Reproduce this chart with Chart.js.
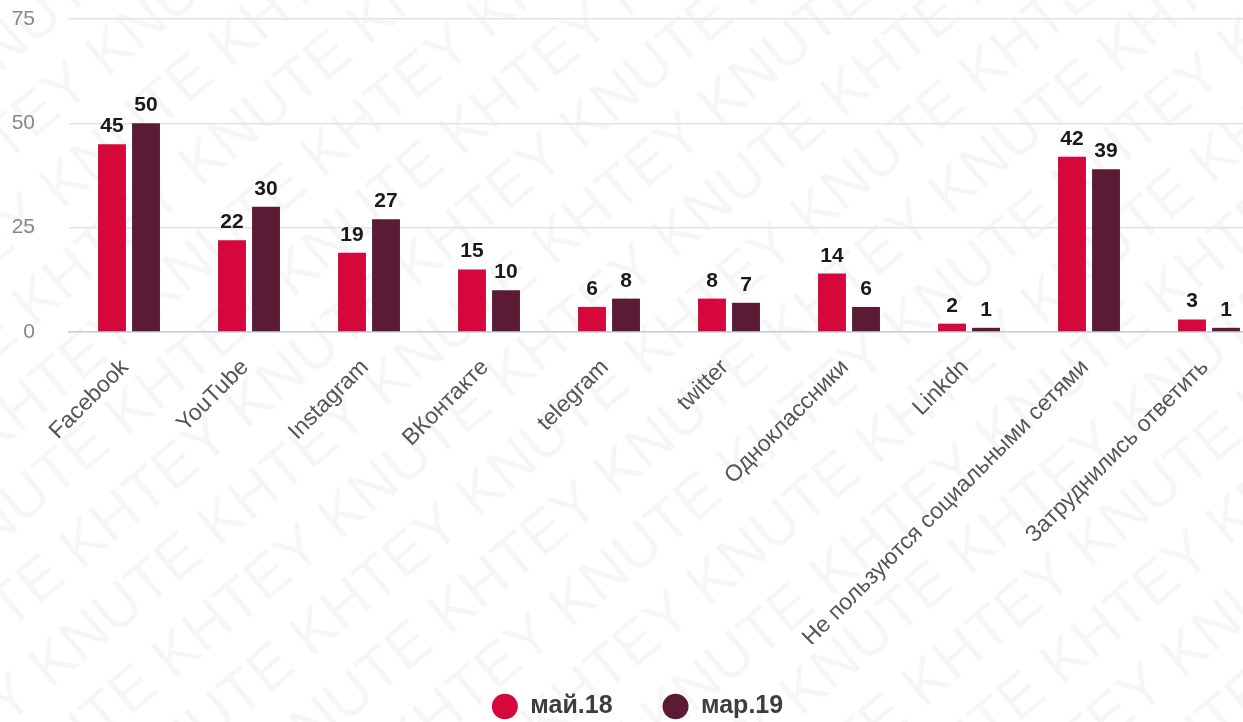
<!DOCTYPE html>
<html>
<head>
<meta charset="utf-8">
<script src="https://cdn.jsdelivr.net/npm/chart.js@4"></script>
<style>
  html, body { margin: 0; padding: 0; background: #fff; overflow: hidden; }
  #grafico { display: block; }
</style>
</head>
<body>
<canvas id="grafico" width="1280" height="722"></canvas>
<script>
// categorie e valori
var categorie = ['Facebook', 'YouTube', 'Instagram', 'ВКонтакте', 'telegram', 'twitter',
  'Одноклассники', 'Linkdn', 'Не пользуются социальными сетями', 'Затруднились ответить'];
var maggio18 = [45, 22, 19, 15, 6, 8, 14, 2, 42, 3];
var marzo19 = [50, 30, 27, 10, 8, 7, 6, 1, 39, 1];
var tickY = [0, 25, 50, 75];

var rosso = '#d6083b';
var bordeaux = '#5b1b34';
var font = '"Liberation Sans", Arial, sans-serif';

// filigrana di sfondo
var filigrana = {
  id: 'filigrana',
  beforeDraw: function (chart) {
    var ctx = chart.ctx;
    ctx.save();
    ctx.fillStyle = '#fff';
    ctx.fillRect(0, 0, chart.width, chart.height);
    ctx.font = '60px ' + font;
    ctx.fillStyle = 'rgba(0,0,0,0.035)';
    ctx.translate(chart.width / 2, chart.height / 2);
    ctx.rotate(-40 * Math.PI / 180);
    var riga = 'KNUTE KHTEY KNUTE KHTEY KNUTE KHTEY KNUTE KHTEY KNUTE KHTEY';
    for (var i = -12; i <= 12; i++) {
      ctx.fillText(riga, -1100 + (i % 2) * 120, i * 72);
    }
    ctx.restore();
  }
};

// etichette sopra le barre
var etichette = {
  id: 'etichette',
  afterDatasetsDraw: function (chart) {
    var ctx = chart.ctx;
    ctx.save();
    ctx.font = 'bold 21px ' + font;
    ctx.fillStyle = '#1a1a1a';
    ctx.textAlign = 'center';
    ctx.textBaseline = 'alphabetic';
    chart.data.datasets.forEach(function (ds, i) {
      chart.getDatasetMeta(i).data.forEach(function (bar, j) {
        ctx.fillText(ds.data[j], bar.x, bar.y - 12);
      });
    });
    ctx.restore();
  }
};

var ctx = document.getElementById('grafico').getContext('2d');
var grafico = new Chart(ctx, {
  type: 'bar',
  data: {
    labels: categorie,
    datasets: [{
      label: 'май.18',
      data: maggio18,
      backgroundColor: rosso,
      barPercentage: 0.82,
      categoryPercentage: 0.567
    }, {
      label: 'мар.19',
      data: marzo19,
      backgroundColor: bordeaux,
      barPercentage: 0.82,
      categoryPercentage: 0.567
    }]
  },
  options: {
    responsive: false,
    animation: false,
    layout: { padding: { top: 19, left: 6, right: 11, bottom: -7 } },
    plugins: {
      legend: {
        position: 'bottom',
        labels: {
          usePointStyle: true,
          pointStyle: 'circle',
          pointStyleWidth: 26,
          boxWidth: 18,
          boxHeight: 18,
          padding: 50,
          color: '#3d3d3d',
          font: { family: font, size: 25, weight: 'bold' }
        }
      },
      tooltip: { enabled: false }
    },
    scales: {
      x: {
        grid: { display: false, drawTicks: false },
        border: { display: true, color: '#c8cddb', width: 1.5 },
        afterFit: function (scale) {
          scale.paddingLeft = 0;
          scale.paddingRight = 0;
          scale.height = 312;
        },
        ticks: {
          minRotation: 45,
          maxRotation: 45,
          padding: 22,
          labelOffset: -4,
          color: '#555',
          font: { family: font, size: 23 }
        }
      },
      y: {
        min: 0,
        max: 75,
        afterBuildTicks: function (axis) {
          axis.ticks = tickY.map(function (v) { return { value: v }; });
        },
        afterFit: function (scale) {
          scale.width = 63;
          scale.paddingTop = 0;
          scale.paddingBottom = 0;
        },
        grid: { color: '#e3e3e3', drawTicks: false, lineWidth: 1.5 },
        border: { display: false },
        ticks: {
          padding: 34,
          color: '#888',
          font: { family: font, size: 21 }
        }
      }
    }
  },
  plugins: [filigrana, etichette]
});
</script>
</body>
</html>
